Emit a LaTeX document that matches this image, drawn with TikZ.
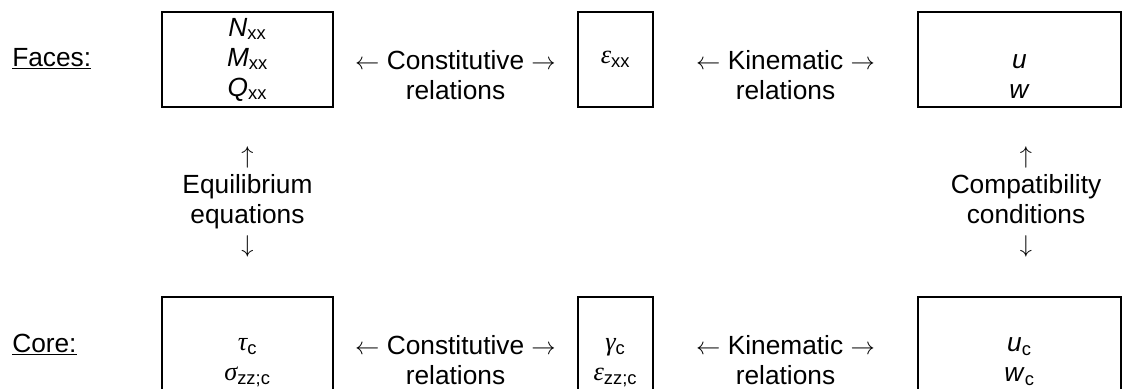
\documentclass[tikz,border=0pt]{standalone}
\usepackage{fontspec}
\setmainfont{Liberation Sans}
\newfontfamily\grkfont{Liberation Serif}
\usepackage{tikz}
\usetikzlibrary{positioning}

\newcommand{\gsym}[1]{{\grkfont\itshape #1}}

\begin{document}
\begin{tikzpicture}[
    font=\fontsize{18.7}{21.3}\selectfont,
    cell/.style={rectangle, draw, line width=1.4pt, minimum height=2.375cm, align=center, inner sep=0pt},
    rel/.style={align=center, inner sep=0pt},
    side/.style={anchor=base west, inner sep=0pt}
]
\useasboundingbox (0,0) rectangle (28.075,-9.725);

% faces
\node[side] (faces) at (0.3,-1.6625) {\underline{Faces:}};
\node[cell, minimum width=4.275cm] (resultants) at (6.1875,-1.4875) {\textit{N}\textsubscript{xx}\\\textit{M}\textsubscript{xx}\\\textit{Q}\textsubscript{xx}};
\node[rel] (constF) at (11.3875,-1.87) {$\leftarrow$ Constitutive $\rightarrow$\\relations};
\node[cell, minimum width=1.875cm] (strainF) at (15.3875,-1.4875) {\gsym{ε}\textsubscript{xx}};
\node[rel] (kinF) at (19.6375,-1.87) {$\leftarrow$ Kinematic $\rightarrow$\\relations};
\node[cell, minimum width=5.075cm] (dispF) at (25.4875,-1.4875) {\phantom{N}\\\textit{u}\\\textit{w}};

% between the rows
\node[rel] (equil) at (6.1875,-5.05) {$\uparrow$\\Equilibrium\\equations\\$\downarrow$};
\node[rel] (compat) at (25.65,-5.05) {$\uparrow$\\Compatibility\\conditions\\$\downarrow$};

% core
\node[side] (core) at (0.3,-8.8) {\underline{Core:}};
\node[cell, minimum width=4.275cm] (stressC) at (6.1875,-8.6125) {\phantom{N}\\\gsym{τ}\textsubscript{c}\\\gsym{σ}\textsubscript{zz;c}};
\node[rel] (constC) at (11.3875,-9.0) {$\leftarrow$ Constitutive $\rightarrow$\\relations};
\node[cell, minimum width=1.875cm] (strainC) at (15.3875,-8.6125) {\phantom{N}\\\gsym{γ}\textsubscript{c}\\\gsym{ε}\textsubscript{zz;c}};
\node[rel] (kinC) at (19.6375,-9.0) {$\leftarrow$ Kinematic $\rightarrow$\\relations};
\node[cell, minimum width=5.075cm] (dispC) at (25.4875,-8.6125) {\phantom{N}\\\textit{u}\textsubscript{c}\\\textit{w}\textsubscript{c}};

\end{tikzpicture}
\end{document}
